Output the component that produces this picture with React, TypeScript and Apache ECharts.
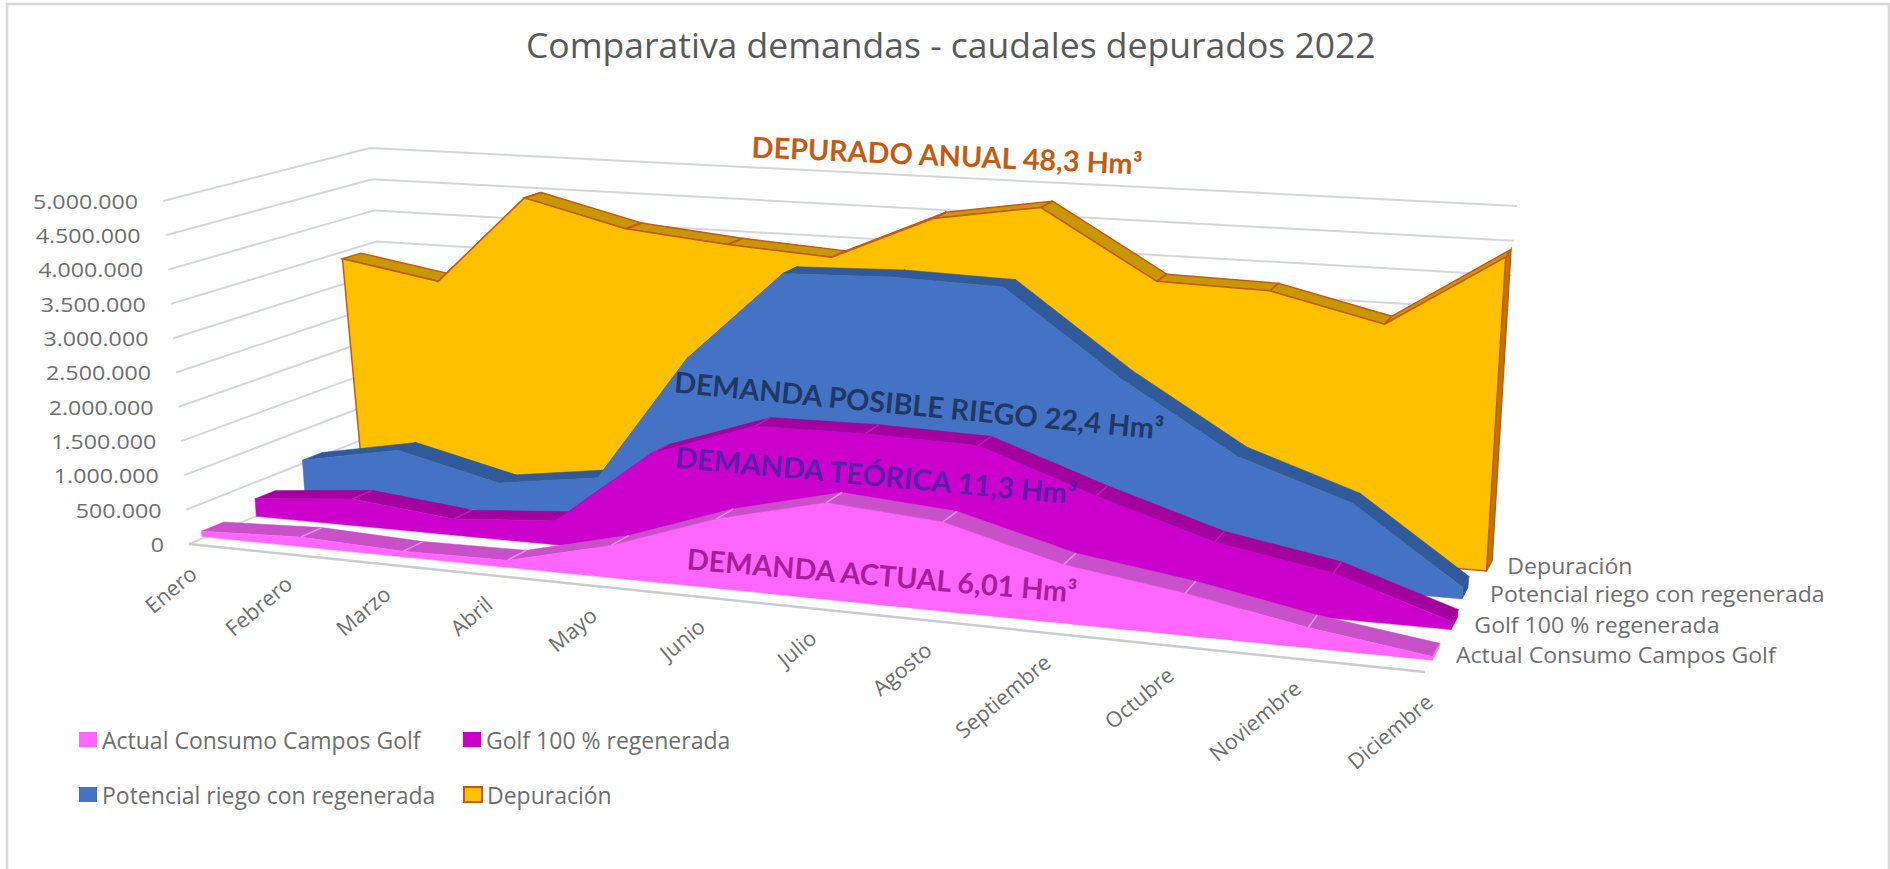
import React, { useEffect, useRef } from "react";
import * as echarts from "echarts";

const months = ["Enero","Febrero","Marzo","Abril","Mayo","Junio","Julio","Agosto","Septiembre","Octubre","Noviembre","Diciembre"];
const valueTicks = [0,500000,1000000,1500000,2000000,2500000,3000000,3500000,4000000,4500000,5000000];
const valueTickLabels = ["0","500.000","1.000.000","1.500.000","2.000.000","2.500.000","3.000.000","3.500.000","4.000.000","4.500.000","5.000.000"];

const actualConsumo = [80000,140000,80000,100000,460000,980000,1350000,1230000,800000,570000,270000,50000];
const golfRegenerada = [265000,400000,240000,350000,1470000,1990000,2010000,1970000,1400000,900000,620000,110000];
const potencialRiego = [530000,810000,440000,650000,2550000,3910000,3960000,3920000,2710000,1730000,1200000,160000];
const depuracion = [3410000,3150000,4540000,4150000,4000000,3900000,4570000,4820000,3830000,3790000,3410000,4470000];

const seriesNames = ["Actual Consumo Campos Golf","Golf 100 % regenerada","Potencial riego con regenerada","Depuración"];
const annotations = ["DEPURADO ANUAL 48,3 Hm³","DEMANDA POSIBLE RIEGO 22,4 Hm³","DEMANDA TEÓRICA 11,3 Hm³","DEMANDA ACTUAL 6,01 Hm³"];
const titleText = "Comparativa demandas - caudales depurados 2022";

const GRID = { left: 100, top: 100, width: 1600, height: 500 };
const FONT = '"Open Sans", sans-serif';
const GREY = "#595959";
const GRIDLINE = "#D4D6D8";

type P = [number, number];
function quadMap(p0: P, p1: P, p2: P, p3: P) {
  const dx1 = p1[0]-p2[0], dx2 = p3[0]-p2[0], sx = p0[0]-p1[0]+p2[0]-p3[0];
  const dy1 = p1[1]-p2[1], dy2 = p3[1]-p2[1], sy = p0[1]-p1[1]+p2[1]-p3[1];
  const den = dx1*dy2-dx2*dy1;
  const g = (sx*dy2-dx2*sy)/den, h = (dx1*sy-sx*dy1)/den;
  const a = p1[0]-p0[0]+g*p1[0], b = p3[0]-p0[0]+h*p3[0], c = p0[0];
  const d = p1[1]-p0[1]+g*p1[1], e = p3[1]-p0[1]+h*p3[1], f = p0[1];
  return (u: number, v: number): P => {
    const w = g*u+h*v+1;
    return [(a*u+b*v+c)/w, (d*u+e*v+f)/w];
  };
}
// floor and ceiling of the box: front-left, front-right, back-right, back-left
const floorMap = quadMap([189,544],[1425,672],[1489,553],[392,460]);
const ceilMap = quadMap([163,201],[1456,291],[1517,206],[370,148]);

type Plane = { k: number; dxL: number; dxR: number; dy: number; lean: number };
function project(u0: number, h: number, t: number, pl?: Plane): P {
  // the reference's month spacing is flatter than a pure perspective
  const k = pl ? pl.k : 0.03 + 0.11*t;
  const u = u0 + k*u0*(1-u0);
  const a = floorMap(u,t), b = ceilMap(u,t);
  let x = a[0]+(b[0]-a[0])*h, y = a[1]+(b[1]-a[1])*h;
  if (pl) {
    x += pl.dxL*(1-u0) + pl.dxR*u0 + pl.lean*(1-h);
    y += pl.dy;
  }
  return [x, y];
}
function at(api: any, i: number, v: number, t: number, pl?: Plane): P {
  const c = api.coord([i, v]);
  return project((c[0]-GRID.left)/GRID.width, (GRID.top+GRID.height-c[1])/GRID.height, t, pl);
}

const styles = [
  { values: actualConsumo, t: 0.1, face: "#FF66FF", top: "#C850C8", end: "#F070F0", edge: "#FF66FF", lw: 0, sep: "#EE8CEE", plane: { k: 0.08, dxL: -10, dxR: 0, dy: 2, lean: 0 } },
  { values: golfRegenerada, t: 0.37, face: "#CC00CC", top: "#A3009F", end: "#B000B0", edge: "#CC00CC", lw: 0, sep: "#B81CB8", plane: { k: 0.09, dxL: -14, dxR: 0, dy: 6, lean: 0 } },
  { values: potencialRiego, t: 0.62, face: "#4472C4", top: "#305A9B", end: "#2F5597", edge: "#4472C4", lw: 0, sep: "#305A9B", plane: { k: 0.108, dxL: -16, dxR: -5, dy: 5, lean: 0 } },
  { values: depuracion, t: 0.865, face: "#FFC000", top: "#C99700", end: "#B97A00", edge: "#C55A11", lw: 1.5, sep: "#C55A11", plane: { k: 0.135, dxL: -12, dxR: -2, dy: 4, lean: 7 } },
];
const THICK = 0.1;

function makeArea(idx: number) {
  const s = styles[idx];
  const pl = s.plane;
  return {
    type: "custom",
    name: seriesNames[idx],
    coordinateSystem: "cartesian2d",
    z: 10 + (3 - idx),
    silent: true,
    itemStyle: { color: s.face },
    encode: { x: 0, y: 1 },
    data: s.values.map((v, i) => [i, v]),
    renderItem: (params: any, api: any) => {
      const i = params.dataIndex;
      const n = s.values.length;
      const t0 = s.t, t1 = s.t + THICK;
      if (i < n - 1) {
        const a = at(api, i, s.values[i], t0, pl), b = at(api, i, s.values[i], t1, pl);
        const c = at(api, i+1, s.values[i+1], t1, pl), d = at(api, i+1, s.values[i+1], t0, pl);
        return {
          type: "group",
          children: [
            { type: "polygon", shape: { points: [a,b,c,d] }, style: { fill: s.top, stroke: s.lw ? s.edge : s.top, lineWidth: s.lw || 0.5 } },
            ...(i > 0 ? [{ type: "line", shape: { x1: a[0], y1: a[1], x2: b[0], y2: b[1] }, style: { stroke: s.sep, lineWidth: 1.5 } }] : []),
          ],
        };
      }
      const upper: P[] = s.values.map((v, k) => at(api, k, v, t0, pl));
      const pts: P[] = [...upper, at(api, n-1, 0, t0, pl), at(api, 0, 0, t0, pl)];
      const endFace: P[] = [at(api, n-1, s.values[n-1], t0, pl), at(api, n-1, s.values[n-1], t1, pl), at(api, n-1, 0, t1, pl), at(api, n-1, 0, t0, pl)];
      return {
        type: "group",
        children: [
          { type: "polygon", shape: { points: endFace }, style: { fill: s.end, stroke: s.lw ? s.edge : s.end, lineWidth: s.lw || 0.5 } },
          { type: "polygon", shape: { points: pts }, style: { fill: s.face, stroke: s.edge, lineWidth: s.lw || 0.5 } },
        ],
      };
    },
  };
}

const wallSeries = {
  type: "custom",
  coordinateSystem: "cartesian2d",
  z: 2,
  silent: true,
  data: valueTicks.map((v) => [0, v]),
  renderItem: (params: any, api: any) => {
    const v = valueTicks[params.dataIndex];
    const a = at(api, 0, v, 0), b = at(api, 0, v, 1), c = at(api, 11, v, 1);
    const children: any[] = [
      { type: "polyline", shape: { points: [a,b,c] }, style: { stroke: GRIDLINE, lineWidth: 2, fill: "none" } },
      { type: "text", x: a[0]-25, y: a[1], scaleX: 1.16, style: { text: valueTickLabels[params.dataIndex], textAlign: "right", textVerticalAlign: "middle", font: `20px ${FONT}`, fill: "#6E6E6E" } },
    ];
    if (v === 0) {
      const d = at(api, 11, 0, 0);
      children.push({ type: "line", shape: { x1: a[0], y1: a[1], x2: d[0], y2: d[1] }, style: { stroke: "#C9CDD2", lineWidth: 2.5 } });
    }
    return { type: "group", children };
  },
};

const monthLabelSeries = {
  type: "custom",
  coordinateSystem: "cartesian2d",
  z: 3,
  silent: true,
  data: months.map((_, i) => [i, 0]),
  renderItem: (params: any, api: any) => {
    const a = at(api, params.dataIndex, 0, 0);
    return { type: "text", x: a[0]+4, y: a[1]+26, rotation: (40*Math.PI)/180, style: { text: months[params.dataIndex], textAlign: "right", textVerticalAlign: "middle", font: `21.5px ${FONT}`, fill: "#6E6E6E" } };
  },
};

const depthLabelNudge: P[] = [[0,4],[0,8],[0,6],[3,5]];
const depthLabelSeries = {
  type: "custom",
  coordinateSystem: "cartesian2d",
  z: 3,
  silent: true,
  data: seriesNames.map((_, i) => [11, i]),
  renderItem: (params: any, api: any) => {
    const i = params.dataIndex;
    const a = at(api, 11, 0, styles[i].t + THICK / 2);
    return { type: "text", x: a[0]+20+depthLabelNudge[i][0], y: a[1]-1+depthLabelNudge[i][1], scaleX: 1.1, style: { text: seriesNames[i], textAlign: "left", textVerticalAlign: "middle", font: `21px ${FONT}`, fill: "#6E6E6E" } };
  },
};

function legendItem(i: number, left: number, top: number, color: string, border?: string) {
  return {
    show: true,
    left, top, padding: 0, itemWidth: 18, itemHeight: 15, selectedMode: false,
    textStyle: { color: "#6E6E6E", fontFamily: "Open Sans", fontSize: 23 },
    data: [{ name: seriesNames[i], icon: "rect", itemStyle: { color, borderColor: border || color, borderWidth: border ? 2 : 0 } }],
  };
}

export default function App() {
  const ref = useRef<HTMLDivElement>(null);
  useEffect(() => {
    const chart = echarts.init(ref.current!, undefined, { renderer: "svg" });
    chart.setOption({
      animation: false,
      backgroundColor: "#FFFFFF",
      title: { text: titleText, left: 526, top: 26, padding: 0, textStyle: { color: GREY, fontFamily: "Open Sans", fontWeight: "normal", fontSize: 35.5 } },
      grid: { ...GRID },
      xAxis: { type: "category", data: months, boundaryGap: false, show: false },
      yAxis: { type: "value", min: 0, max: 5000000, interval: 500000, show: false },
      legend: [
        legendItem(0, 79, 728, "#FF66FF"),
        legendItem(1, 463, 728, "#CC00CC"),
        legendItem(2, 79, 783, "#4472C4"),
        legendItem(3, 463, 783, "#FFC000", "#C55A11"),
      ],
      graphic: [
        { type: "rect", z: 0, silent: true, shape: { x: 7, y: 4, width: 1882, height: 870 }, style: { fill: "none", stroke: "#D9D9D9", lineWidth: 2.5 } },
        ...[
          { i: 0, x: 947, y: 155, r: 2.5, c: "#C55A11" },
          { i: 1, x: 919, y: 405, r: 5.5, c: "#203864" },
          { i: 2, x: 876, y: 475, r: 5.3, c: "#5A1EA8" },
          { i: 3, x: 882, y: 575, r: 4.9, c: "#A61E98" },
        ].map((a) => ({
          type: "text", z: 100, silent: true, x: a.x, y: a.y, rotation: (-a.r*Math.PI)/180,
          style: { text: annotations[a.i], textAlign: "center", textVerticalAlign: "middle", font: `bold 28.8px Lato, sans-serif`, fill: a.c },
        })),
      ],
      series: [wallSeries, makeArea(3), makeArea(2), makeArea(1), makeArea(0), monthLabelSeries, depthLabelSeries],
    });
    return () => chart.dispose();
  }, []);
  return <div ref={ref} style={{ position: "fixed", left: 0, top: 0, width: 1890, height: 869 }} />;
}
